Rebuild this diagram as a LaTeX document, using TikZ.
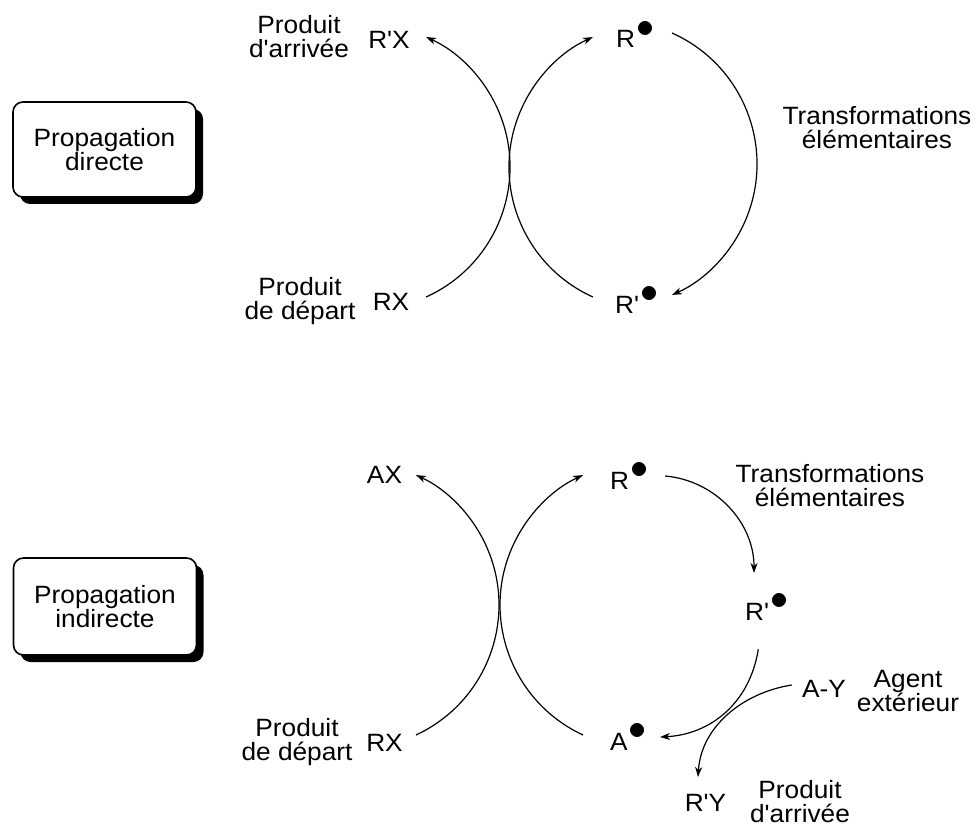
\documentclass[tikz,border=0pt]{standalone}
\usepackage{fontspec}
\setmainfont{Liberation Sans}[FakeStretch=1.05,Ligatures=TeXOff]
\usetikzlibrary{arrows.meta,shadows}
\newcommand\rdot{\kern1pt\raisebox{10.5pt}{\scalebox{1.45}{$\bullet$}}}
\tikzset{
  lbl/.style={font=\fontsize{25}{24}\selectfont, inner sep=0pt, align=center},
  arr/.style={line width=1.2pt, -{Stealth[length=10pt,width=7pt,inset=3pt]}},
  box/.style={lbl, draw, line width=1.6pt, rounded corners=10pt, fill=white,
    minimum width=183pt, minimum height=95pt,
    drop shadow={shadow xshift=7pt, shadow yshift=-7pt, fill=black, opacity=1}}
}
\begin{document}
\begin{tikzpicture}[x=1pt,y=1pt]
\useasboundingbox (0,0) rectangle (977,-829);

% ---------- top: direct propagation ----------
\node[box] (b1) at (104.5,-149.5) {Propagation\\directe};

\node[lbl] (pa1) at (299,-37) {Produit\\d'arrivée};
\node[lbl] (rpx) at (389,-40) {R'X};
\node[lbl] (pd1) at (300,-301) {Produit\\de départ};
\node[lbl] (rx1) at (391,-302) {RX};
\node[lbl, anchor=base west] (r1) at (616,-48) {R\rdot};
\node[lbl, anchor=base west] (rp1) at (615,-313) {R'\rdot};
\node[lbl] (tr1) at (877,-128) {Transformations\\élémentaires};

\coordinate (a1s) at (426.1,-297);
\draw[arr] (a1s) arc[start angle=-65.7, end angle=65.7, radius=142.6pt];
\coordinate (a2s) at (592.9,-297);
\draw[arr] (a2s) arc[start angle=245.7, end angle=114.3, radius=142.6pt];
\coordinate (a3s) at (672,-33);
\draw[arr] (a3s) arc[start angle=65.97, end angle=-65.97, radius=143.4pt];

% ---------- bottom: indirect propagation ----------
\node[box, minimum height=97pt] (b2) at (105,-606.5) {Propagation\\indirecte};

\node[lbl] (ax) at (384.5,-475) {AX};
\node[lbl] (pd2) at (297,-742.5) {Produit\\de départ};
\node[lbl] (rx2) at (384.5,-743) {RX};
\node[lbl, anchor=base west] (r2) at (610,-489) {R\rdot};
\node[lbl] (tr2) at (830,-486) {Transformations\\élémentaires};
\node[lbl, anchor=base west] (rp2) at (745,-620) {R'\rdot};
\node[lbl] (ay) at (824,-689) {A-Y};
\node[lbl] (ag) at (908,-691.5) {Agent\\extérieur};
\node[lbl, anchor=base west] (a2) at (610,-750) {A\rdot};
\node[lbl] (rpy) at (705.5,-803) {R'Y};
\node[lbl] (pa2) at (800,-802) {Produit\\d'arrivée};

\coordinate (c1s) at (416,-735);
\draw[arr] (c1s) arc[start angle=-65.1, end angle=65.1, radius=143.3pt];
\coordinate (c2s) at (583,-735);
\draw[arr] (c2s) arc[start angle=245.1, end angle=114.9, radius=143.3pt];
\coordinate (c3s) at (665.1,-476);
\draw[arr] (c3s) arc[start angle=85, end angle=0, radius=97.4pt];

% R'. -> A.  and  A-Y -> R'Y (the two curves kiss)
\coordinate (c4s) at (758.3,-649.3);
\coordinate (c4e) at (660,-737);
\draw[arr] (c4s) .. controls (749.6,-703.6) and (710,-734.5) .. (c4e);
\coordinate (c5s) at (791.7,-685);
\coordinate (c5e) at (698,-777);
\draw[arr] (c5s) .. controls (742.3,-692.8) and (701.1,-727.1) .. (c5e);
\end{tikzpicture}
\end{document}
